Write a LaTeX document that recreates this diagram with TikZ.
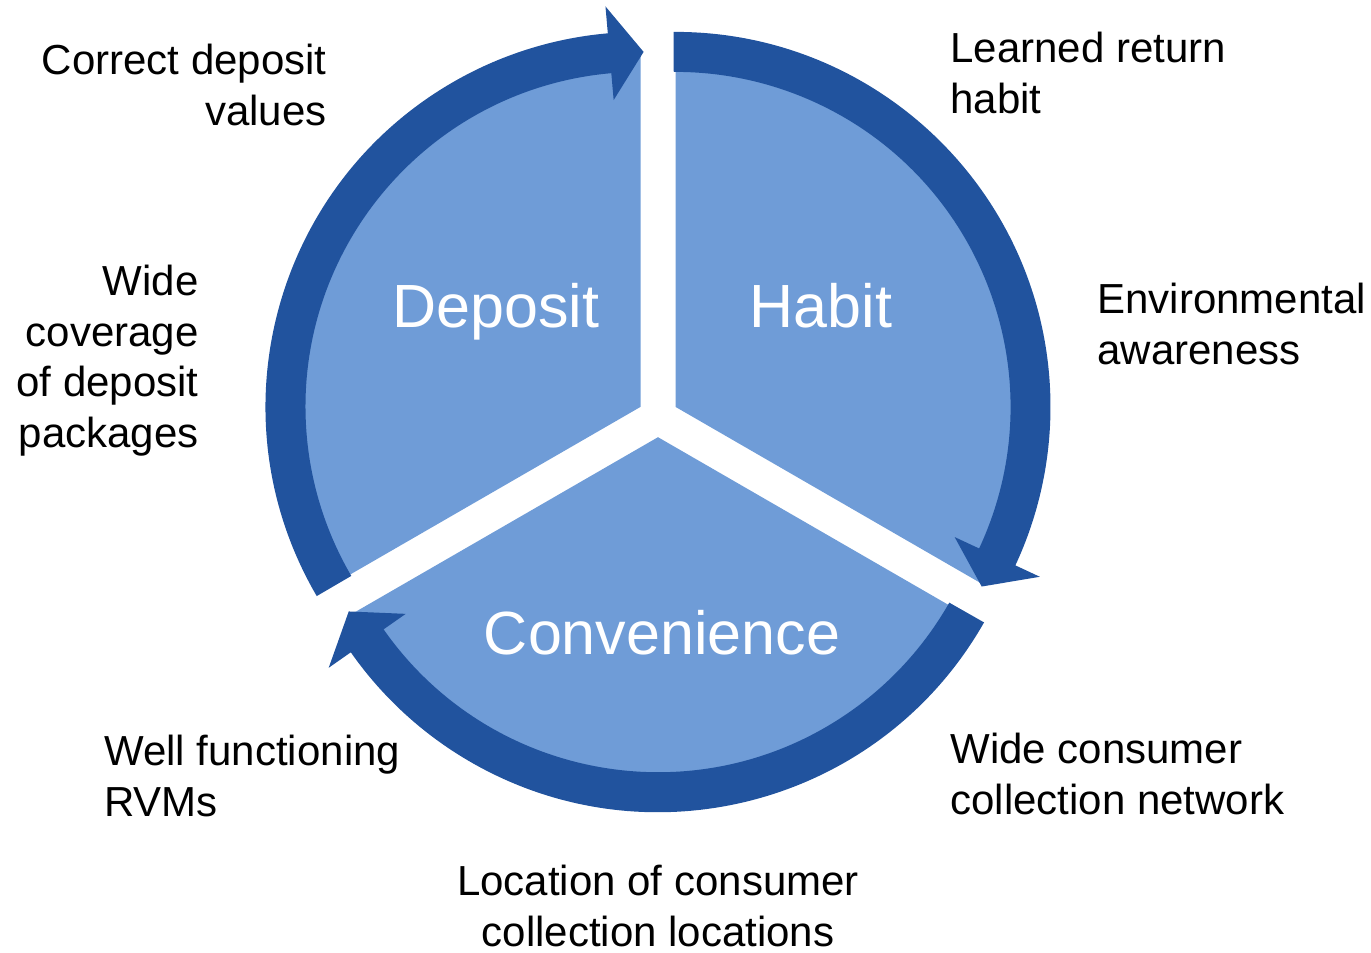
\documentclass[tikz,border=0pt]{standalone}
\usepackage{fontspec}
\setmainfont{Liberation Sans}
\usetikzlibrary{calc}
\definecolor{ringblue}{RGB}{33,83,158}
\definecolor{pieblue}{RGB}{111,156,215}
\tikzset{
  pie/.style={fill=pieblue, draw=none},
  ring/.style={fill=ringblue, draw=none},
  lbl/.style={inner sep=0pt, font=\fontsize{21}{25.25}\selectfont, text=black},
  big/.style={inner sep=0pt, font=\fontsize{30.5}{36}\selectfont, text=white},
}
\begin{document}
\begin{tikzpicture}[x=0.5pt,y=0.5pt]
\path[use as bounding box] (0,0) rectangle (1371,953);
% apices of the three segments
\coordinate (D) at (640.5,546.1);
\coordinate (H) at (675.5,546.1);
\coordinate (V) at (658,515.8);
% pie segments
\fill[pie] (D) -- ($(D)+(90:355)$) arc[start angle=90, end angle=210, radius=355] -- cycle;
\fill[pie] (H) -- ($(H)+(90:355)$) arc[start angle=90, end angle=-30, radius=355] -- cycle;
\fill[pie] (V) -- ($(V)+(210:355)$) arc[start angle=210, end angle=330, radius=355] -- cycle;
% ring arrows
\fill[ring] ($(D)+(210.3:375)$) arc[start angle=210.3, end angle=95, radius=375]
  -- ($(D)+(95:402)$) -- ($(D)+(89.5:355)$) -- ($(D)+(95:308)$) -- ($(D)+(95:335)$)
  arc[start angle=95, end angle=210.3, radius=335] -- cycle;
\fill[ring] ($(H)+(90.3:375)$) arc[start angle=90.3, end angle=-25, radius=375]
  -- ($(H)+(-25:402)$) -- ($(H)+(-30.4:355)$) -- ($(H)+(-25:308)$) -- ($(H)+(-25:335)$)
  arc[start angle=-25, end angle=90.3, radius=335] -- cycle;
\fill[ring] ($(V)+(-29.6:375)$) arc[start angle=-29.6, end angle=-145, radius=375]
  -- ($(V)+(215:402)$) -- ($(V)+(209.4:355)$) -- ($(V)+(215:308)$) -- ($(V)+(215:335)$)
  arc[start angle=-145, end angle=-29.6, radius=335] -- cycle;
% segment titles
\node[big, anchor=base] (tdep) at (496,625) {Deposit};
\node[big, anchor=base] (thab) at (821,625) {Habit};
\node[big, anchor=base] (tcon) at (662,298) {Convenience};
% outer labels
\node[lbl, anchor=north east, align=right] (l1) at (327,909) {Correct deposit\\values};
\node[lbl, anchor=north east, align=right] (l2) at (199,688) {Wide\\coverage\\of deposit\\packages};
\node[lbl, anchor=north west, align=left] (l3) at (950,921) {Learned return\\habit};
\node[lbl, anchor=north west, align=left] (l4) at (1097,670) {Environmental\\awareness};
\node[lbl, anchor=north west, align=left] (l5) at (950,220) {Wide consumer\\collection network};
\node[lbl, anchor=north west, align=left] (l6) at (104,218) {Well functioning\\RVMs};
\node[lbl, anchor=north, align=center] (l7) at (658,88) {Location of consumer\\collection locations};
\end{tikzpicture}
\end{document}
